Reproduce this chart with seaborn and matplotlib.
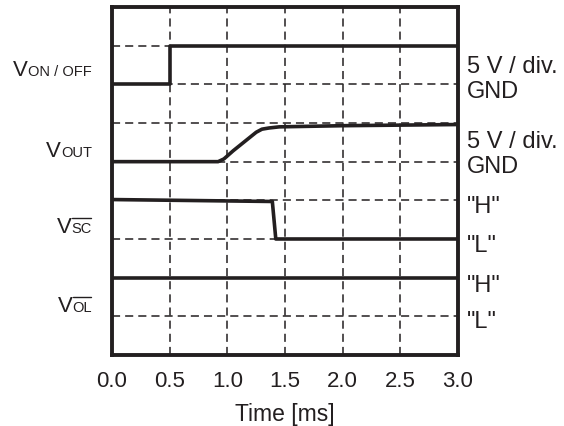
import matplotlib
matplotlib.use('Agg')
import matplotlib.pyplot as plt
import seaborn as sns
import pandas as pd
from matplotlib.offsetbox import TextArea, HPacker, AnnotationBbox
from matplotlib.lines import Line2D
from matplotlib.transforms import IdentityTransform

# Trazas en divisiones de pantalla (0 = borde inferior, 9 = borde superior)
von_t = [0.0, 0.5, 0.5, 3.0]
von_div = [7.0, 7.0, 8.0, 8.0]

vout_t = [0.0, 0.92, 0.97, 1.05, 1.15, 1.25, 1.30, 1.36, 1.45, 2.0, 3.0]
vout_div = [5.0, 5.0, 5.07, 5.28, 5.52, 5.76, 5.84, 5.87, 5.9, 5.93, 5.96]

vsc_t = [0.0, 1.39, 1.42, 3.0]
vsc_div = [4.02, 3.97, 3.0, 3.0]

vol_t = [0.0, 3.0]
vol_div = [2.0, 2.0]

# Etiquetas: (texto, subindice, negado, posicion)
left_labels = [('V', 'ON / OFF', False, 7.38), ('V', 'OUT', False, 5.30),
               ('V', 'SC', True, 3.33), ('V', 'OL', True, 1.28)]
right_labels = [('5 V / div.', 7.32), ('GND', 6.67), ('5 V / div.', 5.38), ('GND', 4.73),
                ('"H"', 3.70), ('"L"', 2.69), ('"H"', 1.66), ('"L"', 0.72)]
x_ticks = [0.0, 0.5, 1.0, 1.5, 2.0, 2.5, 3.0]

sns.set_style('white')
plt.rcParams['font.family'] = ['Liberation Sans', 'DejaVu Sans']

ink = '#231f20'
fig = plt.figure(figsize=(5.64, 4.27), dpi=100)
ax = fig.add_axes([0.1986, 0.1663, 0.6135, 0.815])

for t, v in [(von_t, von_div), (vout_t, vout_div), (vsc_t, vsc_div), (vol_t, vol_div)]:
    df = pd.DataFrame({'t': t, 'v': v})
    sns.lineplot(data=df, x='t', y='v', ax=ax, estimator=None, sort=False,
                 color=ink, lw=2.6, zorder=3)

ax.set_xlim(0, 3)
ax.set_ylim(0, 9)
ax.set_xticks(x_ticks)
ax.set_xticklabels([f'{x:.1f}' for x in x_ticks], fontsize=16, color=ink)
ax.set_yticks(range(1, 9))
ax.set_yticklabels([])
ax.tick_params(length=0)
ax.tick_params(axis='x', pad=11)
ax.set_ylabel('')
ax.set_xlabel('Time [ms]', fontsize=16.5, color=ink, labelpad=7.5)
ax.grid(True, color=ink, lw=1.1, linestyle=(0, (5.3, 3.3)))
ax.set_axisbelow(True)
for s in ax.spines.values():
    s.set_visible(True)
    s.set_color(ink)
    s.set_linewidth(2.8)

barras = []
for main, sub, neg, y in left_labels:
    sub_ta = TextArea(sub, textprops=dict(fontsize=10.5, color=ink))
    box = HPacker(children=[TextArea(main, textprops=dict(fontsize=16, color=ink)), sub_ta],
                  align='baseline', pad=0, sep=0)
    ab = AnnotationBbox(box, (-0.058, y), xycoords=('axes fraction', 'data'),
                        box_alignment=(1, 0.5), frameon=False, pad=0)
    ax.add_artist(ab)
    if neg:
        barras.append(sub_ta)

for txt, y in right_labels:
    ax.text(1.026, y, txt, transform=ax.get_yaxis_transform(), fontsize=17,
            color=ink, ha='left', va='baseline')

# linea de negacion sobre SC y OL
fig.canvas.draw()
r = fig.canvas.get_renderer()
for ta in barras:
    bb = ta._text.get_window_extent(r)
    fig.add_artist(Line2D([bb.x0 + 0.5, bb.x1 - 0.5], [bb.y1 + 2.5, bb.y1 + 2.5],
                          transform=IdentityTransform(), color=ink, lw=1.0))

fig.savefig('out.png', dpi=100)
